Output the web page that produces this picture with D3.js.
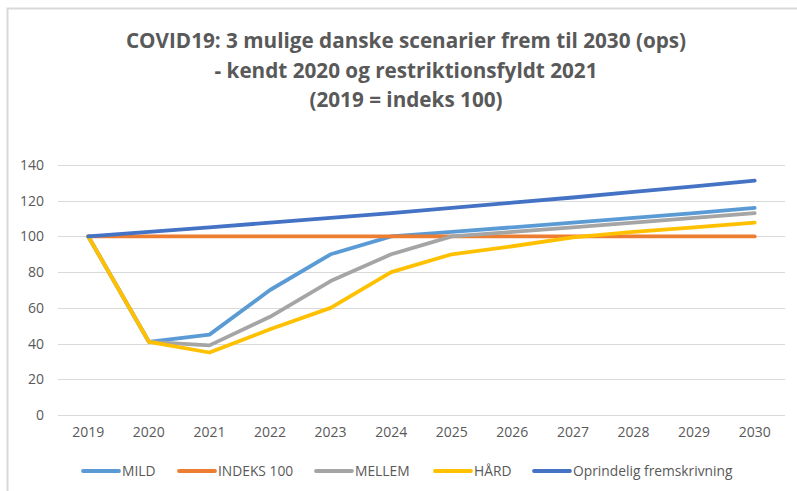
<!DOCTYPE html>
<html>
<head>
<meta charset="utf-8">
<script src="https://cdn.jsdelivr.net/npm/d3@7"></script>
<style>
  body { margin: 0; background: #fff; }
  text { font-family: "Open Sans", "Noto Sans", sans-serif; }
</style>
</head>
<body>
<svg id="chart" width="797" height="491"></svg>
<script>
var years = ["2019","2020","2021","2022","2023","2024","2025","2026","2027","2028","2029","2030"];
var mild = [100, 41, 45, 70, 90, 100, 102.5, 105.1, 107.7, 110.4, 113.1, 116];
var indeks = [100, 100, 100, 100, 100, 100, 100, 100, 100, 100, 100, 100];
var mellem = [100, 41, 39, 55, 75, 90, 100, 102.5, 105.1, 107.7, 110.4, 113.1];
var haard = [100, 41, 35, 48, 60, 80, 90, 94.5, 99.5, 102.5, 105.1, 107.7];
var oprindelig = [100, 102.5, 105.1, 107.7, 110.4, 113.1, 116, 118.9, 121.8, 124.9, 128, 131.2];
var yTicks = [0, 20, 40, 60, 80, 100, 120, 140];
var titleLines = [
  "COVID19: 3 mulige danske scenarier frem til 2030 (ops)",
  "- kendt 2020 og restriktionsfyldt 2021",
  "(2019 = indeks 100)"
];

var series = [
  {name: "MILD", values: mild, color: "#5B9BD5"},
  {name: "INDEKS 100", values: indeks, color: "#ED7D31"},
  {name: "MELLEM", values: mellem, color: "#A5A5A5"},
  {name: "HÅRD", values: haard, color: "#FFC000"},
  {name: "Oprindelig fremskrivning", values: oprindelig, color: "#4472C4"}
];

var svg = d3.select("#chart");

// chart border (only top and left visible in the crop)
svg.append("rect")
  .attr("x", 7.5).attr("y", 8.5)
  .attr("width", 800).attr("height", 500)
  .attr("fill", "none")
  .attr("stroke", "#d9d9d9")
  .attr("stroke-width", 2);

var x = d3.scaleBand().domain(years).range([58, 785]);
var y = d3.scaleLinear().domain([0, 140]).range([415, 165]);

// title
svg.append("g").selectAll("text")
  .data(titleLines)
  .enter()
  .append("text")
  .attr("x", 406)
  .attr("y", (d, i) => 48 + i * 29.5)
  .attr("text-anchor", "middle")
  .attr("fill", "#595959")
  .style("font-size", "20.7px")
  .style("font-weight", "bold")
  .text(d => d);

// gridlines
svg.append("g").selectAll("line")
  .data(yTicks)
  .enter()
  .append("line")
  .attr("x1", 58).attr("x2", 785)
  .attr("y1", d => Math.round(y(d)) + 0.5)
  .attr("y2", d => Math.round(y(d)) + 0.5)
  .attr("stroke", "#d9d9d9")
  .attr("stroke-width", 1);

// y axis labels
var yAxis = svg.append("g")
  .attr("transform", "translate(44,0)")
  .call(d3.axisLeft(y).tickValues(yTicks).tickSize(0).tickPadding(0));
yAxis.select(".domain").remove();
yAxis.selectAll("text")
  .attr("fill", "#595959")
  .style("font-size", "14px")
  .style("font-family", "'Open Sans', sans-serif");

// x axis labels
var xAxis = svg.append("g")
  .attr("transform", "translate(0,427)")
  .call(d3.axisBottom(x).tickSize(0).tickPadding(0));
xAxis.select(".domain").remove();
xAxis.selectAll("text")
  .attr("fill", "#595959")
  .style("font-size", "14px")
  .style("font-family", "'Open Sans', sans-serif");

var line = d3.line()
  .x((d, i) => x(years[i]) + x.bandwidth() / 2)
  .y(d => y(d));

svg.append("g").selectAll("path")
  .data(series)
  .enter()
  .append("path")
  .attr("d", d => line(d.values))
  .attr("fill", "none")
  .attr("stroke", d => d.color)
  .attr("stroke-width", 3.8)
  .attr("stroke-linejoin", "round")
  .attr("stroke-linecap", "round");

// legend
var legendX = [83, 179, 316, 435, 534];
var legend = svg.append("g").selectAll("g")
  .data(series)
  .enter()
  .append("g")
  .attr("transform", (d, i) => "translate(" + legendX[i] + ",471)");
legend.append("line")
  .attr("x1", 0).attr("x2", 36)
  .attr("stroke", d => d.color)
  .attr("stroke-width", 3.8)
  .attr("stroke-linecap", "round");
legend.append("text")
  .attr("x", 39)
  .attr("dy", "0.35em")
  .attr("fill", "#595959")
  .style("font-size", "13.8px")
  .text(d => d.name);
</script>
</body>
</html>
